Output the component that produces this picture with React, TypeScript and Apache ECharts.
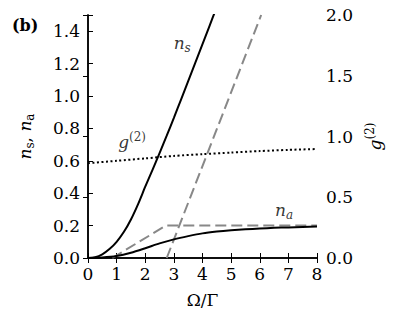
import React, { useEffect, useRef } from "react";
import * as echarts from "echarts";

// Omega/Gamma samples and values
const omegaS = [0, 0.25, 0.5, 0.75, 1, 1.25, 1.5, 1.75, 2, 2.25, 2.5, 2.75, 3, 3.25, 3.5, 3.75, 4, 4.25, 4.5];
const nS = [0, 0.005, 0.023, 0.055, 0.1, 0.16, 0.238, 0.333, 0.44, 0.543, 0.648, 0.755, 0.865, 0.978, 1.092, 1.206, 1.32, 1.435, 1.55];

const omegaA = [0, 0.5, 1, 1.5, 2, 2.5, 3, 3.5, 4, 4.5, 5, 5.5, 6, 6.5, 7, 7.5, 8];
const nA = [0, 0.003, 0.012, 0.032, 0.06, 0.09, 0.115, 0.135, 0.152, 0.163, 0.171, 0.177, 0.182, 0.186, 0.189, 0.192, 0.194];

const omegaG = [0, 1, 2, 3, 4, 5, 6, 7, 8];
const g2 = [0.78, 0.8, 0.82, 0.84, 0.855, 0.868, 0.88, 0.89, 0.897];

const nAApproxX = [0.85, 2.72, 8];
const nAApproxY = [0, 0.2, 0.2];
const nSApproxX = [2.75, 6.05];
const nSApproxY = [0, 1.5];

// annotation anchors (data coordinates, left axis)
const labelNs = [3.29, 1.33];
const labelG2 = [1.54, 0.716];
const labelNa = [6.85, 0.296];

const SERIF = "DejaVu Serif";
const zip = (xs: number[], ys: number[]) => xs.map((x, i) => [x, ys[i]]);

export default function App() {
  const ref = useRef<HTMLDivElement>(null);
  useEffect(() => {
    document.body.style.margin = "0";
    const chart = echarts.init(ref.current!, null, { renderer: "svg" });
    const richMath = {
      i: { fontFamily: SERIF, fontStyle: "italic", fontSize: 17, color: "#000", verticalAlign: "middle", lineHeight: 22 },
      sub: { fontFamily: SERIF, fontStyle: "italic", fontSize: 12, color: "#000", verticalAlign: "bottom", lineHeight: 12 },
      sup: { fontFamily: SERIF, fontSize: 12, color: "#000", verticalAlign: "top", lineHeight: 12 },
    };
    const annot = (pos: number[], text: string) => ({
      type: "scatter",
      symbolSize: 0,
      silent: true,
      data: [pos],
      label: { show: true, position: "inside", formatter: text, rich: richMath },
      z: 10,
    });
    const axisLine = { show: true, lineStyle: { color: "#000", width: 1.5 } };
    const axisTick = { show: true, inside: true, length: 5, lineStyle: { color: "#000", width: 1 } };
    const labelStyle = { fontFamily: SERIF, fontSize: 17, color: "#000" };
    chart.setOption({
      animation: false,
      title: {
        text: "(b)",
        left: 12,
        top: 17,
        padding: 0,
        textStyle: { fontFamily: SERIF, fontWeight: "bold", fontSize: 16, color: "#000" },
      },
      grid: { left: 88, right: 82, top: 15, bottom: 65 },
      xAxis: [
        {
          type: "value",
          min: 0,
          max: 8,
          interval: 1,
          axisLine,
          axisTick,
          splitLine: { show: false },
          axisLabel: { ...labelStyle, margin: 7 },
          name: "Ω/Γ",
          nameLocation: "middle",
          nameGap: 33,
          nameTextStyle: { fontFamily: SERIF, fontSize: 17, color: "#000" },
        },
        {
          type: "value",
          position: "top",
          min: 0,
          max: 8,
          interval: 1,
          axisLine,
          axisTick,
          splitLine: { show: false },
          axisLabel: { show: false },
        },
      ],
      yAxis: [
        {
          type: "value",
          min: 0,
          max: 1.5,
          interval: 0.2,
          axisLine,
          axisTick,
          splitLine: { show: false },
          axisLabel: {
            ...labelStyle,
            margin: 8,
            formatter: (v: number) => (v > 1.45 ? "" : v.toFixed(1)),
          },
          name: "{i|n}{s|s}{c|, }{i|n}{s|a}",
          nameLocation: "middle",
          nameRotate: 90,
          nameGap: 52,
          nameTextStyle: {
            rich: {
              i: { fontFamily: SERIF, fontStyle: "italic", fontSize: 17, color: "#000", verticalAlign: "middle", lineHeight: 22 },
              s: { fontFamily: SERIF, fontSize: 12, color: "#000", verticalAlign: "bottom", lineHeight: 12 },
              c: { fontFamily: SERIF, fontSize: 17, color: "#000", verticalAlign: "middle", lineHeight: 22 },
            },
          },
        },
        {
          type: "value",
          min: 0,
          max: 2,
          interval: 0.5,
          position: "right",
          axisLine,
          axisTick,
          splitLine: { show: false },
          axisLabel: { ...labelStyle, margin: 9, formatter: (v: number) => v.toFixed(1) },
          name: "{i|g}{sup|(2)}",
          nameLocation: "middle",
          nameRotate: 90,
          nameGap: 42,
          nameTextStyle: { rich: richMath },
        },
      ],
      series: [
        {
          type: "line",
          name: "nS approx",
          data: zip(nSApproxX, nSApproxY),
          symbol: "none",
          lineStyle: { color: "#888", width: 2, type: [11, 5] },
          clip: true,
        },
        {
          type: "line",
          name: "nA approx",
          data: zip(nAApproxX, nAApproxY),
          symbol: "none",
          lineStyle: { color: "#888", width: 2, type: [11, 5] },
          clip: true,
        },
        {
          type: "line",
          name: "n_s",
          data: zip(omegaS, nS),
          symbol: "none",
          smooth: 0.25,
          lineStyle: { color: "#000", width: 2 },
          clip: true,
        },
        {
          type: "line",
          name: "n_a",
          data: zip(omegaA, nA),
          symbol: "none",
          smooth: 0.25,
          lineStyle: { color: "#000", width: 2 },
          clip: true,
        },
        {
          type: "line",
          name: "g2",
          yAxisIndex: 1,
          data: zip(omegaG, g2),
          symbol: "none",
          smooth: 0.25,
          lineStyle: { color: "#000", width: 2, type: [2, 2.5] },
          clip: true,
        },
        annot(labelNs, "{i|n}{sub|s}"),
        annot(labelG2, "{i|g}{sup|(2)}"),
        annot(labelNa, "{i|n}{sub|a}"),
      ],
    });
    return () => chart.dispose();
  }, []);
  return <div ref={ref} style={{ width: 399, height: 323 }} />;
}
